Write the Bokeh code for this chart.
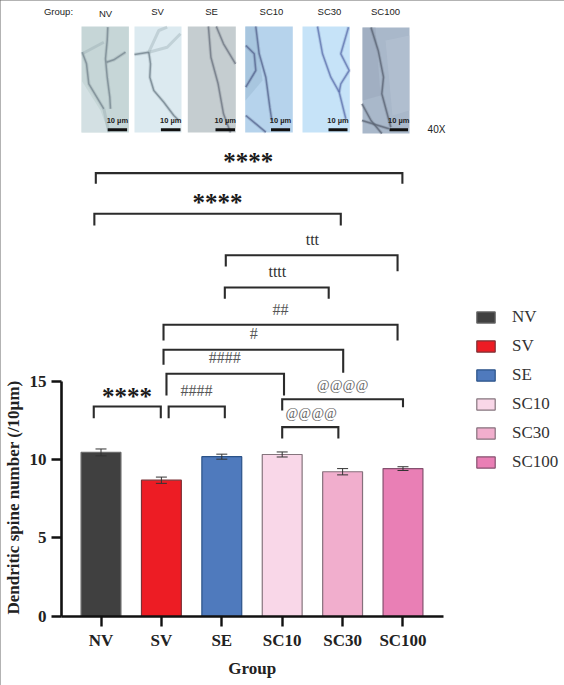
import math
from bokeh.plotting import figure
from bokeh.core.properties import value
from bokeh.models import (Range1d, LinearAxis, FixedTicker, ColumnDataSource, Whisker, TeeHead,
                          Legend, LegendItem, Label)
from bokeh.embed import file_html
from bokeh.resources import INLINE

# ---- data ----
groups = ["NV", "SV", "SE", "SC10", "SC30", "SC100"]
spine_number = [10.45, 8.68, 10.18, 10.32, 9.22, 9.42]
sem = [0.22, 0.2, 0.16, 0.16, 0.2, 0.12]
y_ticks = [0, 5, 10, 15]
fills = ["#404040", "#ed1c24", "#4f7abd", "#f9d7e8", "#f1aecd", "#e97fb5"]
edges = ["#6a6a6a", "#7d3035", "#2a5288", "#85757d", "#85707c", "#85506f"]

# significance brackets: start, end (group position), height, left drop, right drop
brackets = [
    (-0.086, 4.99, 28.24, 0.68, 0.68), (-0.11, 3.97, 25.65, 0.75, 0.75),
    (2.066, 4.91, 23.01, 0.72, 1.02), (2.05, 3.77, 20.96, 0.72, 0.72),
    (1.035, 4.91, 18.58, 1.0, 1.0), (1.035, 4.01, 16.99, 0.96, 1.46),
    (1.084, 3.03, 15.46, 1.38, 1.38), (-0.12, 0.99, 13.38, 0.75, 0.75),
    (1.12, 2.05, 13.38, 0.75, 0.75), (3.0, 5.0, 13.84, 0.72, 0.51),
    (3.0, 3.93, 12.06, 0.72, 0.72),
]
star_labels = [("****", 2.44, 28.95), ("****", 1.93, 26.34), ("****", 0.43, 14.03)]
other_labels = [("ttt", 3.50, 24.0), ("tttt", 2.92, 21.97), ("##", 2.97, 19.57),
                ("#", 2.53, 18.04), ("####", 2.05, 16.48), ("####", 1.58, 14.38)]
at_labels = [("@@@@", 4.0, 14.7), ("@@@@", 3.48, 12.95)]

# photo strip (decoration, reference pixels)
photos = [
    (81, 128.4, 26, 132, "#c6d6d7", "#76858f"),
    (134, 181, 26, 132, "#dceaf0", "#6f7f8a"),
    (187.3, 235.3, 26, 132, "#c5cdd0", "#6c7480"),
    (244.7, 292.3, 26, 132, "#b6d3ec", "#55668f"),
    (302, 349.3, 26, 132, "#c6e3f8", "#5f72ad"),
    (362, 409, 27, 133, "#a9b8ca", "#5b6474"),
]
photo_shades = [
    ([81, 100, 108, 81], [80, 110, 132, 132], "#dfeaec"),
    ([245, 255, 262, 245], [26, 26, 80, 100], "#9dbbd6"),
    ([385, 409, 409, 392], [40, 35, 110, 115], "#b6c3d4"),
    ([362, 375, 380, 362], [27, 27, 95, 100], "#9aa8bc"),
]
dendrites = [
    [[(107.3, 26.7), (106.7, 40), (105, 58.3), (106.7, 76.7), (109.3, 96.7), (110, 108.3)],
     [(106, 61.7), (113.3, 59.3), (125, 51.7)],
     [(81.7, 51.7), (86, 63.3), (88.3, 83.3), (103.3, 108.3)]],
    [[(148.3, 51.7), (150, 63.3), (149.3, 76.7), (153.3, 90), (163.3, 101.7), (173.3, 115), (178.3, 120)],
     [(134, 54), (148.3, 51.7)]],
    [[(207.9, 26), (210.4, 56.7), (217.6, 83.3), (223, 113.3), (230, 132)],
     [(215.8, 26), (223, 43.3), (235, 63.3)]],
    [[(255.3, 26), (258.7, 53.3), (265.3, 76.7), (269.3, 106.7), (271.3, 120)],
     [(245.3, 45), (253.7, 53.3), (255.3, 70), (245.3, 86.7)],
     [(245.3, 115), (265.3, 131.7)]],
    [[(317, 26), (322, 53.3), (330.3, 76.7), (338.7, 91.7), (345.3, 118.3)],
     [(348, 26.7), (340.3, 53.3), (348.7, 70), (340.3, 83.3), (338.7, 91.7)]],
    [[(370.5, 27), (377.7, 50), (383, 76.7), (381.3, 93.3), (390.3, 126.7)],
     [(361.5, 103.3), (370.5, 120), (381.3, 133)],
     [(361.5, 120), (388.5, 128.3)]],
]
pale_lines = [
    [(81.7, 53.3), (103.3, 41.7)], [(103.3, 108.3), (108.3, 131.7)],
    [(148.3, 51.7), (158.3, 30), (166.7, 26.7)], [(148.3, 51.7), (166.7, 46.7), (180, 33.3)],
]
scale_bars = [(107.2, 126.6), (160.4, 180), (215, 234.5), (270.5, 289.6), (328, 347), (389, 407.5)]
photo_titles = ["Group:", "NV", "SV", "SE", "SC10", "SC30", "SC100"]
photo_title_x = [58, 105, 157, 211, 271, 329, 385]
photo_title_y = [11, 12.5, 11, 11, 11, 11, 11]

p = figure(width=564, height=685, output_backend="svg", toolbar_location=None,
           x_range=Range1d(-1.664, 7.674), y_range=Range1d(-4.395, 39.236),
           min_border_left=0, min_border_right=0, min_border_top=0, min_border_bottom=0,
           x_axis_type=None, y_axis_type=None)
p.outline_line_color = None
p.grid.visible = False
p.styles = {"outline": "1.4px solid #666666", "outline-offset": "-1.4px"}
p.extra_x_ranges["px"] = Range1d(0, 564)
p.extra_y_ranges["px"] = Range1d(685, 0)

serif = "Liberation Serif"
xaxis = LinearAxis(ticker=FixedTicker(ticks=list(range(len(groups)))),
                   major_label_overrides={i: g for i, g in enumerate(groups)},
                   bounds=(-0.654, 5.67), fixed_location=0)
yaxis = LinearAxis(ticker=FixedTicker(ticks=y_ticks), bounds=(0, 15), fixed_location=-0.654)
for ax in (xaxis, yaxis):
    ax.axis_line_width = 2.6
    ax.major_tick_line_width = 2.4
    ax.axis_line_color = ax.major_tick_line_color = "#111111"
    ax.minor_tick_line_color = None
    ax.major_tick_in = 0
    ax.major_tick_out = 10
    ax.major_label_text_font = serif
    ax.major_label_text_font_style = "bold"
    ax.major_label_text_font_size = "17px"
    ax.major_label_text_color = "#222222"
xaxis.major_label_standoff = 5
yaxis.major_label_standoff = 5
p.add_layout(xaxis, "below")
p.add_layout(yaxis, "left")

# axis titles sit off-centre in the reference, so they are placed as labels
p.add_layout(Label(x=251.7, y=668, text="Group", x_range_name="px", y_range_name="px",
                   text_align="center", text_baseline="middle", text_font=serif,
                   text_font_style="bold", text_font_size="17px", text_color="#222222"))
p.add_layout(Label(x=13, y=497, text="Dendritic spine number (/10µm)", angle=math.pi / 2,
                   x_range_name="px", y_range_name="px",
                   text_align="center", text_baseline="middle", text_font=serif,
                   text_font_style="bold", text_font_size="17px", text_color="#222222"))

items = []
for i, g in enumerate(groups):
    r = p.vbar(x=[i], top=[spine_number[i]], bottom=0, width=0.66,
               fill_color=fills[i], line_color=edges[i], line_width=1.2)
    items.append(LegendItem(label=g, renderers=[r]))

src = ColumnDataSource(dict(x=list(range(len(groups))),
                            up=[v + e for v, e in zip(spine_number, sem)],
                            lo=[v - e for v, e in zip(spine_number, sem)]))
p.add_layout(Whisker(source=src, base="x", upper="up", lower="lo", level="overlay",
                     line_color="#333333", line_width=1,
                     upper_head=TeeHead(size=11, line_color="#333333", line_width=1),
                     lower_head=TeeHead(size=11, line_color="#333333", line_width=1)))

# brackets
bx, by = [], []
for x0, x1, y, dl, dr in brackets:
    bx.append([x0, x0, x1, x1])
    by.append([y - dl, y, y, y - dr])
p.multi_line(bx, by, line_color="#2b2b2b", line_width=2.1, line_join="miter", line_cap="butt")

def labels(rows, size, style, color):
    p.text(x=[r[1] for r in rows], y=[r[2] for r in rows], text=[r[0] for r in rows],
           text_align="center", text_baseline="middle", text_font=value(serif),
           text_font_size=size, text_font_style=style, text_color=color)

labels(star_labels, "25px", "bold", "#1a1a1a")
labels(other_labels[:2], "16px", "normal", "#333333")
labels(other_labels[2:], "16px", "normal", "#555555")
labels(at_labels, "14px", "normal", "#666666")

# photo strip
for (l, r_, t, b, bg, line) in photos:
    p.quad(left=[l], right=[r_], top=[t], bottom=[b], fill_color=bg, line_color=None,
           x_range_name="px", y_range_name="px")
p.patches([s[0] for s in photo_shades], [s[1] for s in photo_shades],
          fill_color=[s[2] for s in photo_shades], fill_alpha=0.55, line_color=None,
          x_range_name="px", y_range_name="px")
for (l, r_, t, b, bg, line), lines in zip(photos, dendrites):
    xs = [[q[0] for q in s] for s in lines]
    ys = [[q[1] for q in s] for s in lines]
    p.multi_line(xs, ys, line_color=line, line_width=3.4, line_alpha=0.22,
                 x_range_name="px", y_range_name="px")
    p.multi_line(xs, ys, line_color=line, line_width=1.5, line_alpha=0.75,
                 x_range_name="px", y_range_name="px")
p.multi_line([[q[0] for q in s] for s in pale_lines], [[q[1] for q in s] for s in pale_lines],
             line_color="#8fa3a8", line_width=3, line_alpha=0.35,
             x_range_name="px", y_range_name="px")
p.quad(left=[s[0] for s in scale_bars], right=[s[1] for s in scale_bars],
       top=[127.7] * 6, bottom=[130.7] * 6, fill_color="#111111", line_color=None,
       x_range_name="px", y_range_name="px")
p.text(x=[(s[0] + s[1]) / 2 for s in scale_bars], y=[120] * 6, text=["10 µm"] * 6,
       text_align="center", text_baseline="middle", text_font=value("Liberation Sans"),
       text_font_size="7.5px", text_font_style="bold", text_color="#222222",
       x_range_name="px", y_range_name="px")
for t, x, y in zip(photo_titles, photo_title_x, photo_title_y):
    p.add_layout(Label(x=x, y=y, text=t, x_range_name="px", y_range_name="px",
                       text_align="center", text_baseline="middle", text_font="Liberation Sans",
                       text_font_size="9.5px", text_color="#222222"))
p.text(x=[436], y=[129], text=["40X"], text_align="center", text_baseline="middle",
       text_font=value("Liberation Sans"), text_font_size="10px", text_color="#222222",
       x_range_name="px", y_range_name="px")

legend = Legend(items=items, location=(474, 213), orientation="vertical",
                border_line_color=None, background_fill_alpha=0, margin=0, padding=0,
                glyph_width=23, glyph_height=14, label_height=14, spacing=9,
                label_standoff=15, label_text_font=serif, label_text_font_size="17px",
                label_text_color="#333333")
p.add_layout(legend)

open("out.html", "w").write(file_html(p, INLINE))
